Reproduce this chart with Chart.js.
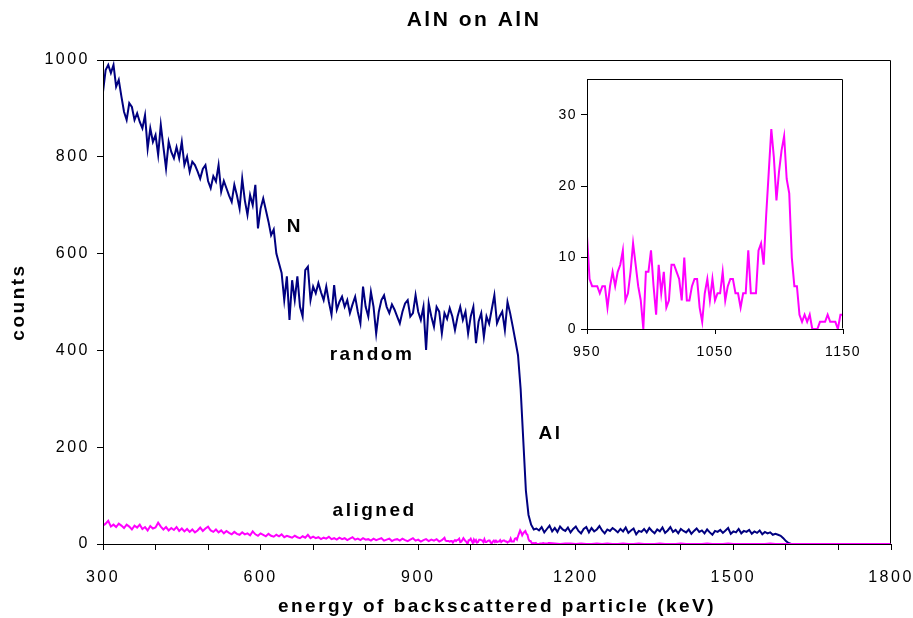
<!DOCTYPE html>
<html><head><meta charset="utf-8">
<script src="https://cdn.jsdelivr.net/npm/chart.js@4.4.1/dist/chart.umd.min.js"></script>
<style>
html,body{margin:0;padding:0;background:#fff;}
#wrap{position:relative;width:913px;height:618px;overflow:hidden;}
#main{position:absolute;left:0;top:0;width:913px;height:618px;}
#inset{position:absolute;left:540px;top:68px;width:330px;height:300px;}
</style></head><body>
<div id="wrap"><canvas id="main" width="913" height="618"></canvas><canvas id="inset" width="330" height="300"></canvas></div>
<script>
// ---------- DATA ----------
const chartTitle = 'AlN on AlN';
const xTitle = 'energy of backscattered particle (keV)';
const yTitle = 'counts';
const xMainTicks = [300,400,500,600,700,800,900,1000,1100,1200,1300,1400,1500,1600,1700,1800];
const xMainLabels = [300,600,900,1200,1500,1800];
const yMainTicks = [0,200,400,600,800,1000];
const xInsetTicks = [950,1050,1150];
const yInsetTicks = [0,10,20,30];

// random spectrum, channels from 300 keV every 5 keV
const randomStart = 300, randomStep = 5;
const randomCounts = [
 934,979,990,973,990,945,959,925,893,876,
 911,903,876,890,872,859,886,817,859,831,
 845,804,866,820,776,831,810,797,820,797,
 831,783,800,769,790,783,770,755,775,783,
 750,735,760,749,783,728,750,735,720,707,
 742,720,693,755,710,680,721,700,742,652,
 693,714,690,666,638,650,600,580,560,504,
 553,463,545,504,553,490,470,566,573,504,
 532,518,539,520,504,532,500,474,535,484,
 500,511,490,504,477,495,511,480,456,532,
 490,470,521,490,435,480,504,514,490,477,
 495,484,470,456,480,497,504,470,477,514,
 480,463,490,401,497,470,449,490,480,435,
 477,465,487,470,442,470,490,463,480,435,
 470,490,415,460,477,428,470,455,485,514,
 456,470,480,442,500,477,449,420,390,320,
 215,110,60,40,30,32
];
// random spectrum above the Al edge, from 1130 keV every 5 keV
const randomTailStart = 1130, randomTailStep = 5;
const randomTailCounts = [
 28,35,24,31,38,26,33,25,36,30,
 27,34,24,31,36,27,22,31,35,24,
 33,26,30,37,28,22,30,27,33,29,
 24,31,26,34,23,28,32,20,27,25,
 31,24,33,27,22,30,26,34,23,28,
 35,25,29,22,31,27,24,30,21,27,
 32,25,28,22,30,24,19,27,25,29,
 23,28,33,21,26,24,31,22,27,25,
 29,21,26,23,28,20,25,22,24,19,
 21,19,17,12,6,2,0,0,0
];
// aligned spectrum, 300-945 keV every 5 keV
const alignedLowStart = 300, alignedLowStep = 5;
const alignedLowCounts = [
 38,42,48,36,40,35,42,38,33,40,
 36,30,38,34,40,31,35,28,37,32,
 34,44,36,30,35,28,33,29,35,27,
 32,26,31,25,30,24,28,34,27,32,
 36,28,25,30,24,28,22,27,23,20,
 25,21,19,24,20,22,18,26,20,17,
 22,19,16,21,17,15,19,16,20,14,
 17,15,13,17,14,12,16,13,19,12,
 15,12,14,10,13,11,15,10,12,9,
 13,10,12,8,11,14,9,11,8,12,
 9,10,7,11,8,10,12,7,9,11,
 6,9,10,7,11,8,6,9,12,7,
 9,5,8,10,6,9,7,10,5,8
];
// aligned spectrum, 950-1150 keV every 2 keV (also shown in the inset)
const alignedInsetStart = 950, alignedInsetStep = 2;
const alignedInsetCounts = [
 13,7,6,6,6,5,6,6,3,6,
 8,6,8,9,11,4,5,8,12,9,
 6,4,0,8,8,11,6,2,9,5,
 8,3,4,9,9,8,7,4,10,4,
 4,6,7,7,3,1,5,7,4,7,
 4,5,5,8,4,6,7,7,5,5,
 3,5,5,11,5,5,5,11,12,9,
 16,22,28,24,18,22,25,27,21,19,
 10,6,6,2,1,2,1,2,0,0,
 0,1,1,1,2,1,1,1,0,2,
 2
];
// aligned spectrum, 1160-1800 keV every 10 keV
const alignedHighStart = 1160, alignedHighStep = 10;
const alignedHighCounts = [
 1,0,1,1,0,1,0,0,1,0,
 1,0,0,1,0,0,1,0,0,0,
 1,0,0,0,1,0,0,0,0,1,
 0,0,0,1,0,0,0,0,0,0,
 0,1,0,0,0,0,0,0,0,0,
 0,0,0,0,0,0,0,0,0,0,
 0,0,0,0,0
];
// text labels inside the plot (data coordinates)
const annotations = [
  {text:'N', x:665, y:655},
  {text:'random', x:812, y:392},
  {text:'Al', x:1152, y:227},
  {text:'aligned', x:817, y:68}
];

// ---------- BUILD ----------
const FONT = "'Liberation Sans', Arial, Helvetica, sans-serif";
Chart.defaults.font.family = FONT;
Chart.defaults.color = '#000';

function toPoints(start, step, values){ return values.map((v,i)=>({x:start+i*step, y:v})); }
const randomPoints = toPoints(randomStart, randomStep, randomCounts)
  .concat(toPoints(randomTailStart, randomTailStep, randomTailCounts));
const alignedPoints = toPoints(alignedLowStart, alignedLowStep, alignedLowCounts)
  .concat(toPoints(alignedInsetStart, alignedInsetStep, alignedInsetCounts))
  .concat(toPoints(alignedHighStart, alignedHighStep, alignedHighCounts));
const insetPoints = toPoints(alignedInsetStart, alignedInsetStep, alignedInsetCounts);

function spacing(sp){
  return {id:'spacing',
    beforeLayout(c){ c.ctx.letterSpacing = sp; },
    beforeDraw(c){ c.ctx.letterSpacing = sp; }};
}
const framePlugin = {id:'frame', afterDraw(c){
  const {left,top,right,bottom} = c.chartArea; const ctx = c.ctx;
  ctx.save(); ctx.strokeStyle = '#000'; ctx.lineWidth = 1;
  const l = Math.round(left)+0.5, t = Math.round(top)+0.5, r = Math.round(right)-0.5, b = Math.round(bottom)-0.5;
  ctx.beginPath(); ctx.moveTo(l,b); ctx.lineTo(l,t); ctx.lineTo(r,t); ctx.lineTo(r,b); ctx.stroke();
  ctx.restore();
}};
const textPlugin = {id:'texts', afterDraw(c){
  const ctx = c.ctx; ctx.save();
  ctx.fillStyle = '#000'; ctx.letterSpacing = '2.5px';
  ctx.textAlign = 'center'; ctx.textBaseline = 'middle';
  ctx.font = 'bold 19px ' + FONT;
  annotations.forEach(a=>{
    ctx.fillText(a.text, c.scales.x.getPixelForValue(a.x), c.scales.y.getPixelForValue(a.y));
  });
  ctx.font = 'bold 21px ' + FONT;
  ctx.fillText(chartTitle, 474, 20);
  ctx.restore();
}};
const plain = v => String(v);
function fixX(h, padR){ return s => { s.height = h; s.paddingLeft = 0; s.paddingRight = padR; }; }
function fixY(w){ return s => { s.width = w; s.paddingTop = 0; s.paddingBottom = 0; }; }

const tickFont = {family: FONT, size: 16};
new Chart(document.getElementById('main'), {
  type:'line',
  data:{datasets:[
    {label:'aligned', data:alignedPoints, borderColor:'#FF00FF', borderWidth:2, pointRadius:0, tension:0, order:0},
    {label:'random', data:randomPoints, borderColor:'#000080', borderWidth:2, pointRadius:0, tension:0, order:1}
  ]},
  options:{
    responsive:false, animation:false, events:[],
    layout:{padding:{left:0, top:60, right:22, bottom:0}},
    plugins:{legend:{display:false}, tooltip:{enabled:false}, title:{display:false}},
    scales:{
      x:{type:'linear', min:300, max:1800,
        afterBuildTicks:s=>{ s.ticks = xMainTicks.map(v=>({value:v})); },
        afterFit:fixX(74, 0),
        ticks:{autoSkip:false, maxRotation:0, padding:18, color:'#000', font:tickFont,
          callback:v=> xMainLabels.includes(v) ? String(v) : ''},
        grid:{drawOnChartArea:false, drawTicks:true, tickLength:6, color:'#000', lineWidth:1},
        border:{display:true, color:'#000', width:1},
        title:{display:true, text:xTitle, color:'#000', font:{family:FONT, size:19, weight:'bold'}, padding:{top:0, bottom:0}}
      },
      y:{type:'linear', min:0, max:1000,
        afterBuildTicks:s=>{ s.ticks = yMainTicks.map(v=>({value:v})); },
        afterFit:fixY(103),
        ticks:{autoSkip:false, padding:7, color:'#000', font:tickFont, callback:plain},
        grid:{drawOnChartArea:false, drawTicks:true, tickLength:6, color:'#000', lineWidth:1},
        border:{display:true, color:'#000', width:1},
        title:{display:true, text:yTitle, color:'#000', font:{family:FONT, size:19, weight:'bold'}, padding:{top:7, bottom:0}}
      }
    }
  },
  plugins:[spacing('2.5px'), framePlugin, textPlugin]
});

const insetFont = {family: FONT, size: 14};
new Chart(document.getElementById('inset'), {
  type:'line',
  data:{datasets:[
    {label:'aligned (detail)', data:insetPoints, borderColor:'#FF00FF', borderWidth:2, pointRadius:0, tension:0}
  ]},
  options:{
    responsive:false, animation:false, events:[],
    layout:{padding:{left:0, top:11, right:27, bottom:0}},
    plugins:{legend:{display:false}, tooltip:{enabled:false}, title:{display:false}},
    scales:{
      x:{type:'linear', min:950, max:1150,
        afterBuildTicks:s=>{ s.ticks = xInsetTicks.map(v=>({value:v})); },
        afterFit:fixX(39, 0),
        ticks:{autoSkip:false, maxRotation:0, padding:10, color:'#000', font:insetFont, callback:plain},
        grid:{drawOnChartArea:false, drawTicks:true, tickLength:5, color:'#000', lineWidth:1},
        border:{display:true, color:'#000', width:1}
      },
      y:{type:'linear', min:0, max:35,
        afterBuildTicks:s=>{ s.ticks = yInsetTicks.map(v=>({value:v})); },
        afterFit:fixY(47),
        ticks:{autoSkip:false, padding:4, color:'#000', font:insetFont, callback:plain},
        grid:{drawOnChartArea:false, drawTicks:true, tickLength:6, color:'#000', lineWidth:1},
        border:{display:true, color:'#000', width:1}
      }
    }
  },
  plugins:[spacing('1.5px'), framePlugin]
});
</script>
</body></html>
